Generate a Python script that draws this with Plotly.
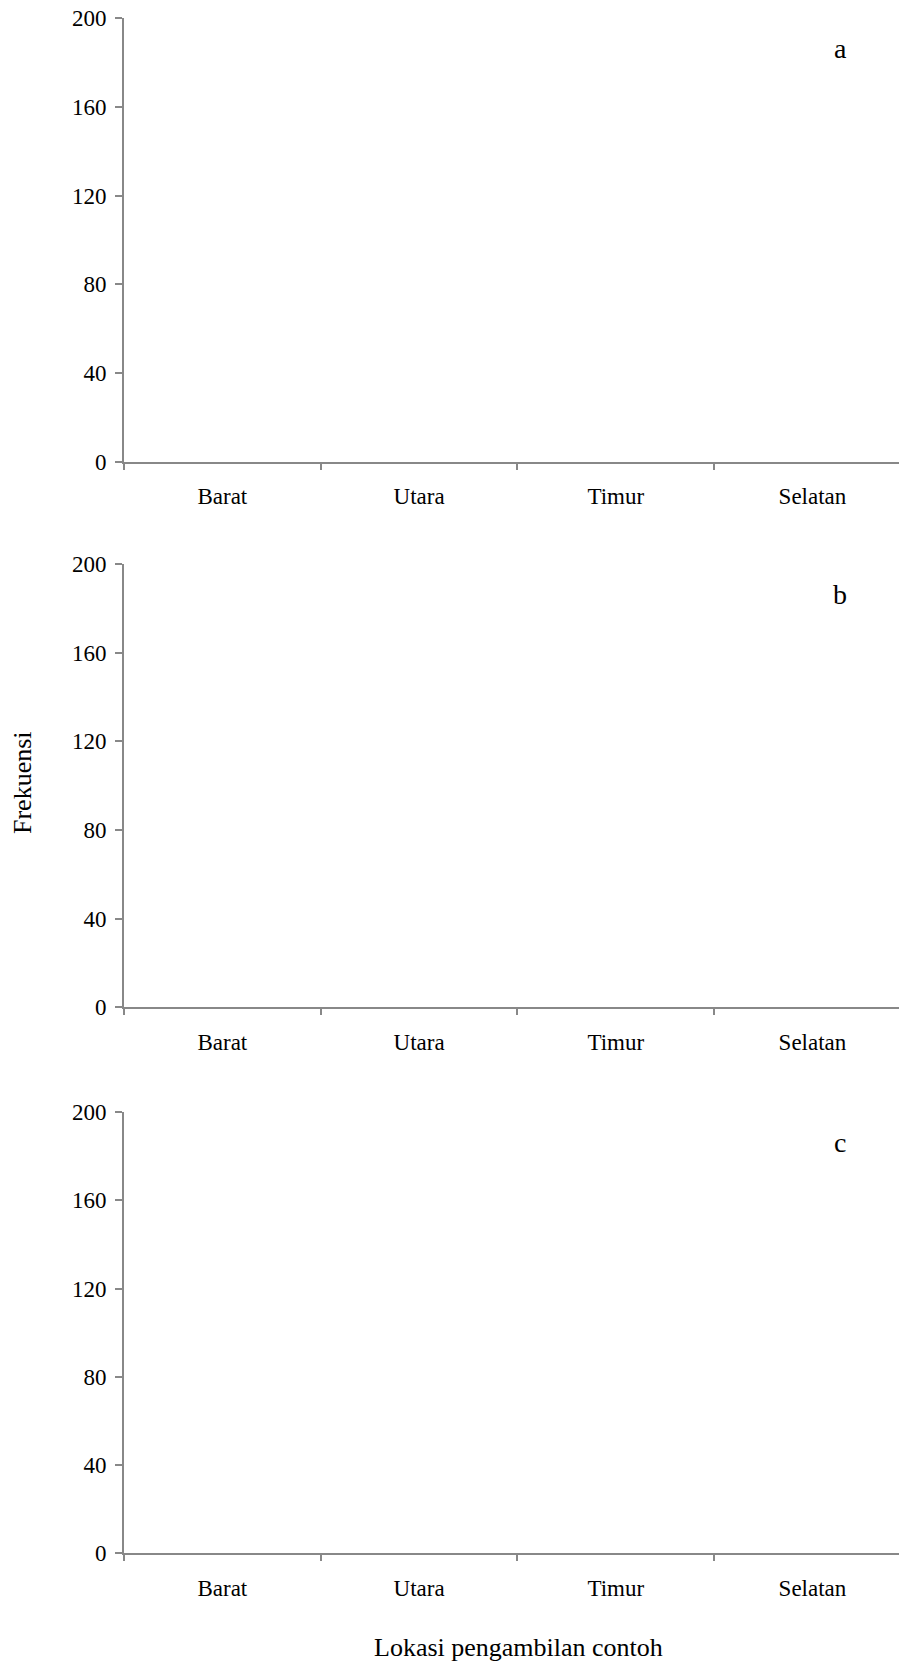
import plotly.graph_objects as go

# Data (no bars are visible in the reference: all frequencies appear empty)
categories = ["Barat", "Utara", "Timur", "Selatan"]
panel_a = [0, 0, 0, 0]
panel_b = [0, 0, 0, 0]
panel_c = [0, 0, 0, 0]
panel_labels = ["a", "b", "c"]
y_ticks = [0, 40, 80, 120, 160, 200]

W, H = 899, 1665
FONT = "Liberation Serif, Times New Roman, serif"
AXCOL = "#888888"

# pixel positions of each panel (top of 200, bottom at 0)
panels_px = [(18.3, 461.7), (564.0, 1007.3), (1112.0, 1553.4)]
plot_left = 124

fig = go.Figure()
series = [panel_a, panel_b, panel_c]
for i, vals in enumerate(series):
    sfx = "" if i == 0 else str(i + 1)
    fig.add_trace(go.Bar(x=categories, y=vals, xaxis="x" + sfx, yaxis="y" + sfx,
                         marker=dict(color="#7f7f7f", line=dict(width=0)),
                         showlegend=False, hoverinfo="skip"))

layout = dict(
    width=W, height=H,
    margin=dict(l=plot_left, r=0, t=0, b=0, autoexpand=False),
    paper_bgcolor="white", plot_bgcolor="white",
    font=dict(family=FONT, size=23, color="black"),
    showlegend=False,
)

for i, (top, bot) in enumerate(panels_px):
    sfx = "" if i == 0 else str(i + 1)
    dom = [1 - bot / H, 1 - top / H]
    layout["xaxis" + sfx] = dict(
        type="category", categoryorder="array", categoryarray=categories,
        range=[-0.5, 3.44], domain=[0, 1], anchor="y" + sfx, automargin=False,
        showline=True, linecolor=AXCOL, linewidth=2,
        ticks="outside", tickson="boundaries", ticklen=6, tickwidth=2, tickcolor=AXCOL,
        showgrid=False, zeroline=False, fixedrange=True,
        tickfont=dict(family=FONT, size=23, color="black"),
        ticklabelstandoff=13,
    )
    layout["yaxis" + sfx] = dict(
        range=[0, 200], domain=dom, anchor="x" + sfx, automargin=False,
        tickvals=y_ticks, ticktext=[str(v) for v in y_ticks],
        showline=True, linecolor=AXCOL, linewidth=2,
        ticks="outside", ticklen=7, tickwidth=2, tickcolor=AXCOL,
        showgrid=False, zeroline=False, fixedrange=True,
        tickfont=dict(family=FONT, size=23, color="black"),
        ticklabelstandoff=4,
    )

annotations = []
for i, (top, bot) in enumerate(panels_px):
    annotations.append(dict(
        text=panel_labels[i], xref="paper", yref="paper",
        x=(840 - plot_left) / (W - plot_left), y=1 - (top + 30) / H,
        xanchor="center", yanchor="middle", showarrow=False,
        font=dict(family=FONT, size=28, color="black"),
    ))

annotations.append(dict(
    text="Frekuensi", xref="paper", yref="paper",
    x=(22 - plot_left) / (W - plot_left), y=1 - 783 / H,
    xanchor="center", yanchor="middle", textangle=-90, showarrow=False,
    font=dict(family=FONT, size=26, color="black"),
))
annotations.append(dict(
    text="Lokasi pengambilan contoh", xref="paper", yref="paper",
    x=(518 - plot_left) / (W - plot_left), y=1 - 1647 / H,
    xanchor="center", yanchor="middle", showarrow=False,
    font=dict(family=FONT, size=26, color="black"),
))
layout["annotations"] = annotations

fig.update_layout(**layout)

post = ("document.body.style.margin='0px';"
        "document.body.style.padding='0px';"
        "document.documentElement.style.overflow='hidden';"
        "document.body.style.overflow='hidden';")
fig.write_html("out.html", post_script=post, config={"displayModeBar": False})
